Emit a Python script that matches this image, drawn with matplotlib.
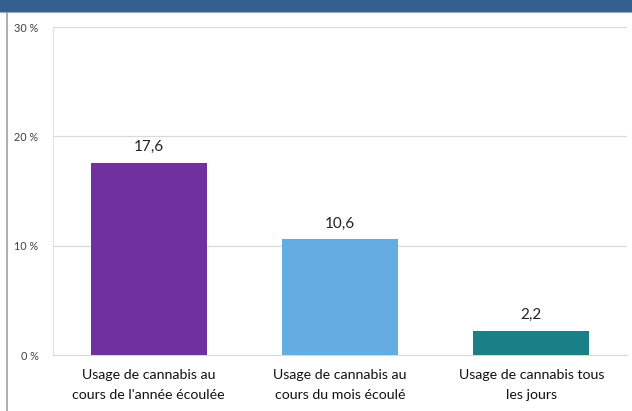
import matplotlib.pyplot as plt
from matplotlib.patches import Rectangle
from matplotlib.lines import Line2D

categories = ["Usage de cannabis au\ncours de l'année écoulée",
              "Usage de cannabis au\ncours du mois écoulé",
              "Usage de cannabis tous\nles jours"]
values = [17.6, 10.6, 2.2]
value_labels = ["17,6", "10,6", "2,2"]
colors = ["#7030a0", "#63ade2", "#1b7f88"]
yticks = [0, 10, 20, 30]
ytick_labels = ["0 %", "10 %", "20 %", "30 %"]

plt.rcParams['font.family'] = ['Lato', 'DejaVu Sans']

fig = plt.figure(figsize=(6.32, 4.11), dpi=100)
ax = fig.add_axes([0.084, 0.136, 0.908, 0.798])

x = range(len(categories))
bars = ax.bar(x, values, width=0.605, color=colors, zorder=3)
for b, lab in zip(bars, value_labels):
    ax.text(b.get_x() + b.get_width() / 2, b.get_height() + 0.8, lab,
            ha='center', va='bottom', fontsize=11, color='#222222')

ax.set_xlim(-0.5, 2.5)
ax.set_ylim(0, 30)
ax.set_yticks(yticks)
ax.set_yticklabels(ytick_labels, fontsize=7.8, color='#404040')
ax.set_xticks(list(x))
ax.set_xticklabels(categories, fontsize=10.2, color='#111111', linespacing=1.85)
ax.tick_params(axis='both', length=0)
ax.tick_params(axis='y', pad=10.5)
ax.tick_params(axis='x', pad=10)
ax.grid(axis='y', color='#d9d9d9', lw=0.9, zorder=0)
for side in ['top', 'right']:
    ax.spines[side].set_visible(False)
ax.spines['left'].set_color('#e3e3e3')
ax.spines['bottom'].set_color('#d9d9d9')

# blue header band and frame border
fig.patches.append(Rectangle((0, 1 - 11 / 411), 1, 11 / 411, transform=fig.transFigure,
                             color='#335f91', zorder=5))
fig.lines.append(Line2D([0, 1], [1 - 12 / 411] * 2, transform=fig.transFigure,
                        color='#b8c4d2', lw=1))
fig.lines.append(Line2D([6.5 / 632] * 2, [0, 1 - 11 / 411], transform=fig.transFigure,
                        color='#a0a0a0', lw=1.2))

fig.savefig('out.png', dpi=100)
